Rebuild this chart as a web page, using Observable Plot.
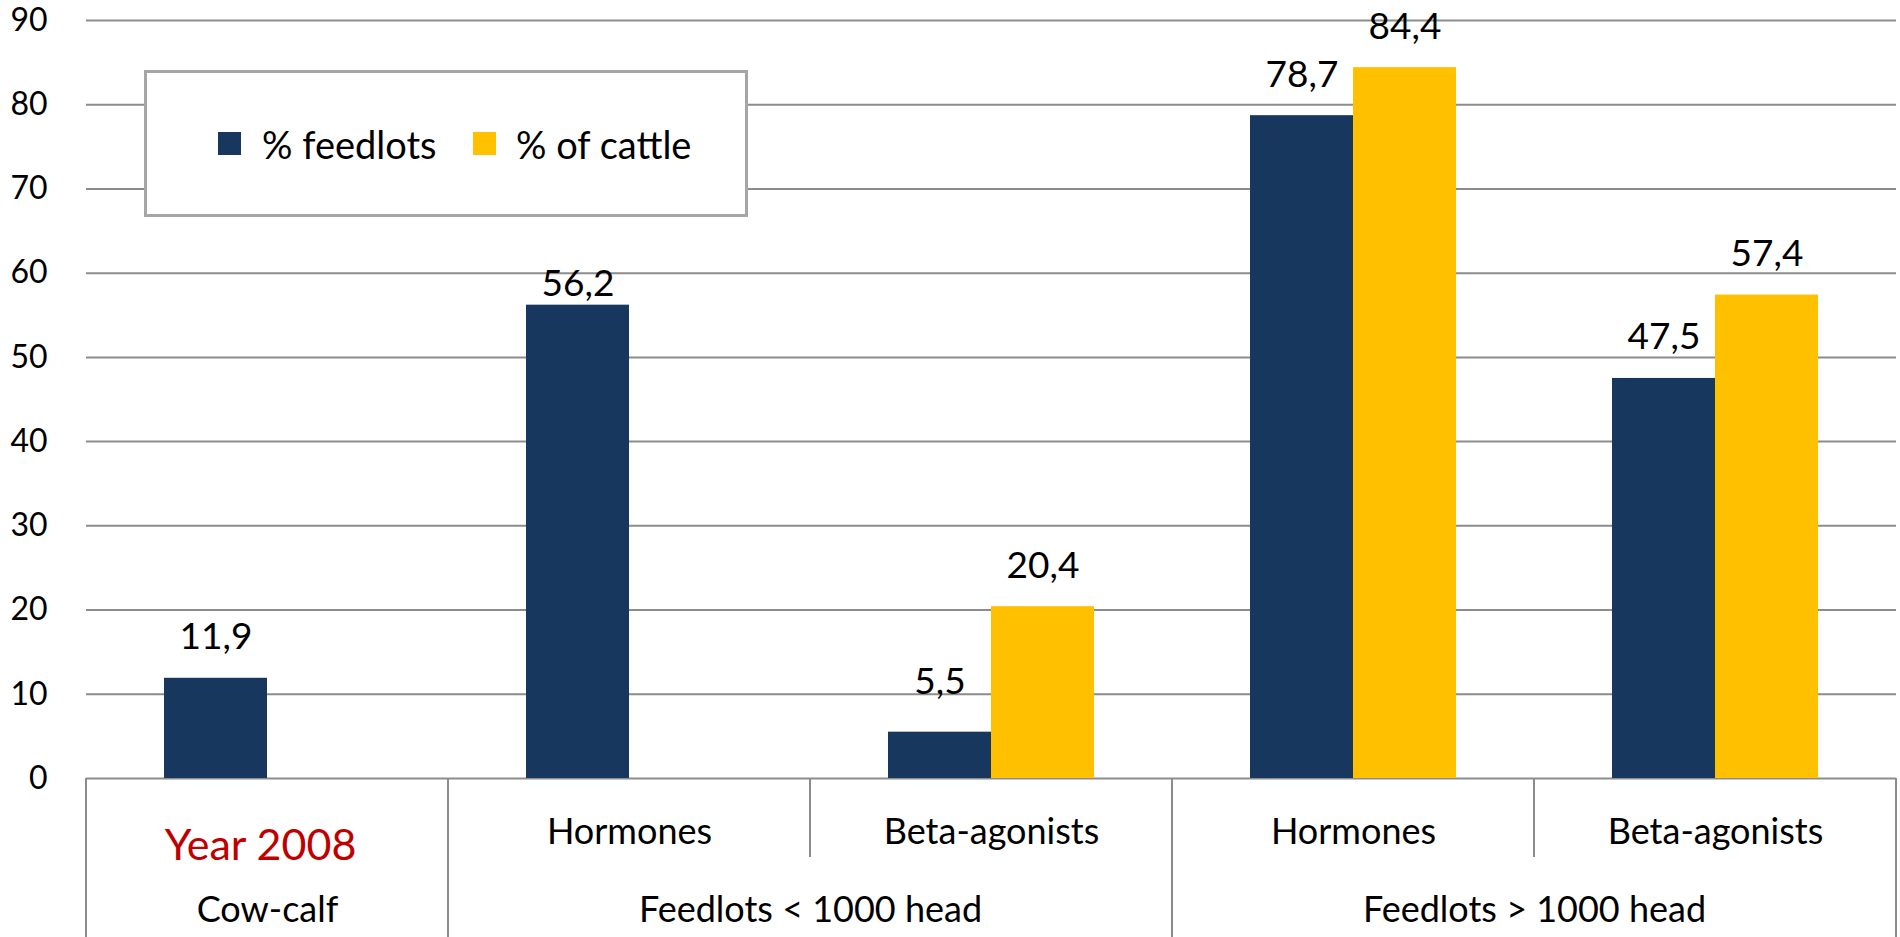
<!DOCTYPE html>
<html>
<head>
<meta charset="utf-8">
<script src="https://cdn.jsdelivr.net/npm/d3@7"></script>
<script src="https://cdn.jsdelivr.net/npm/@observablehq/plot@0.6"></script>
<style>
  html, body { margin: 0; padding: 0; background: #fff; overflow: hidden; }
  #wrap { position: relative; width: 1900px; height: 937px; font-family: Lato, Carlito, Calibri, sans-serif; color: #000; }
  #wrap svg { position: absolute; left: 0; top: 0; font-family: Lato, Carlito, Calibri, sans-serif; }
  #legend { position: absolute; left: 144px; top: 70px; width: 604px; height: 147px; box-sizing: border-box;
            border: 3px solid #a6a6a6; background: #fff; }
  .lg-item { position: absolute; top: 0; height: 100%; display: flex; align-items: center; }
  .lg-sw { width: 23px; height: 23px; }
  .lg-tx { font-size: 38px; white-space: nowrap; }
</style>
</head>
<body>
<div id="wrap"></div>
<script>
// ---- data ----
const subLabels   = ["Year 2008", "Hormones", "Beta-agonists", "Hormones", "Beta-agonists"];
const groupLabels = ["Cow-calf", "Feedlots < 1000 head", "Feedlots > 1000 head"];
const groupStart  = [0, 1, 3];
const groupSpan   = [1, 2, 2];
const seriesNames = ["% feedlots", "% of cattle"];
const feedlotsPct = [11.9, 56.2, 5.5, 78.7, 47.5];
const cattlePct   = [null, null, 20.4, 84.4, 57.4];
const yTicks      = [0, 10, 20, 30, 40, 50, 60, 70, 80, 90];

// ---- styling ----
const seriesColors = ["#17375e", "#ffc000"];
const gridColor = "#8c8c8c";
const W = 1900, H = 937;
const mL = 84, mR = 2, mT = 20, mB = 159;
const labelFont = 37;
const defaultGap = 29;
const gapOverride = {"1|% feedlots": 9, "2|% feedlots": 38};

const cols = subLabels.map((_, i) => i);
const rows = [];
cols.forEach(i => {
  if (feedlotsPct[i] != null) rows.push({col: i, series: seriesNames[0], value: feedlotsPct[i]});
  if (cattlePct[i] != null) rows.push({col: i, series: seriesNames[1], value: cattlePct[i]});
});
const fmt = v => d3.format(".1f")(v).replace(".", ",");
const gapOf = d => gapOverride[d.col + "|" + d.series] ?? defaultGap;
const gaps = [...new Set(rows.map(gapOf))];

const valueLabelMarks = gaps.map(g =>
  Plot.text(rows.filter(d => gapOf(d) === g), {
    fx: "col", x: "series", y: "value", text: d => fmt(d.value),
    lineAnchor: "middle", dy: -g - 0.32 * labelFont, fontSize: labelFont, fill: "#000"
  })
);

const subRows = cols.map(i => ({col: i, label: subLabels[i]}));
const groupRows = groupLabels.map((g, k) => ({col: groupStart[k], label: g, span: groupSpan[k]}));
const catFont = 36, yearFont = 43;

const plot = Plot.plot({
  width: W, height: H,
  marginLeft: mL, marginRight: mR, marginTop: mT, marginBottom: mB,
  fx: {domain: cols, padding: 0, axis: null},
  x: {domain: seriesNames, paddingInner: 0, paddingOuter: 0.744, axis: null},
  y: {domain: [0, 90], axis: null},
  color: {domain: seriesNames, range: seriesColors},
  style: {fontFamily: "Lato, Carlito, Calibri, sans-serif", color: "#000", background: "transparent"},
  marks: [
    Plot.ruleY(yTicks, {stroke: gridColor, strokeWidth: 2}),
    Plot.axisY({ticks: yTicks, tickSize: 0, tickPadding: 39, fontSize: 32, fill: "#000", label: null, tickFormat: d => String(d)}),
    Plot.barY(rows, {fx: "col", x: "series", y: "value", fill: "series", inset: 0}),
    ...valueLabelMarks,
    // first-level category labels
    Plot.text(subRows.filter(d => d.col !== 0), {
      fx: "col", frameAnchor: "bottom", text: "label", lineAnchor: "middle",
      dy: 843.3 - (H - mB) - 0.32 * catFont, fontSize: catFont, fill: "#000"
    }),
    Plot.text(subRows.filter(d => d.col === 0), {
      fx: "col", frameAnchor: "bottom", text: "label", lineAnchor: "middle",
      dx: -7, dy: 859.3 - (H - mB) - 0.32 * yearFont, fontSize: yearFont, fill: "#c00000"
    }),
    // second-level group labels
    Plot.text(groupRows.filter(d => d.span === 1), {
      fx: "col", frameAnchor: "bottom", text: "label", lineAnchor: "middle",
      dy: 921.7 - (H - mB) - 0.32 * catFont, fontSize: catFont, fill: "#000"
    }),
    Plot.text(groupRows.filter(d => d.span === 2), {
      fx: "col", frameAnchor: "bottom-right", textAnchor: "middle", text: "label", lineAnchor: "middle",
      dy: 921.7 - (H - mB) - 0.32 * catFont, fontSize: catFont, fill: "#000"
    })
  ]
});

const wrap = document.getElementById("wrap");
wrap.appendChild(plot);

// table lines of the two-level category axis, placed with Plot's fx/y scales
const fxS = plot.scale("fx");
const yS = plot.scale("y");
const y0 = yS.apply(0);
const bw = fxS.bandwidth;
const rowSplit = 857;
const svg = d3.select(plot);
const g = svg.append("g").attr("stroke", gridColor).attr("stroke-width", 2);
const boundaries = [];
boundaries.push({x: fxS.apply(0), full: true});
cols.slice(1).forEach(i => {
  const isGroupEdge = groupStart.includes(i);
  boundaries.push({x: fxS.apply(i), full: isGroupEdge});
});
boundaries.push({x: fxS.apply(cols[cols.length - 1]) + bw, full: true});
boundaries.forEach(b => {
  g.append("line").attr("x1", b.x).attr("x2", b.x).attr("y1", y0).attr("y2", b.full ? H : rowSplit);
});

// legend (overlaid on the plot area)
const legend = document.createElement("div");
legend.id = "legend";
const lgPos = [{sw: 74, tx: 118}, {sw: 329, tx: 372}];
seriesNames.forEach((s, i) => {
  const a = document.createElement("div");
  a.className = "lg-item"; a.style.left = lgPos[i].sw - 3 + "px";
  a.innerHTML = `<div class="lg-sw" style="background:${seriesColors[i]}"></div>`;
  legend.appendChild(a);
  const b = document.createElement("div");
  b.className = "lg-item"; b.style.left = lgPos[i].tx - 3 + "px";
  b.innerHTML = `<span class="lg-tx">${s}</span>`;
  legend.appendChild(b);
});
wrap.appendChild(legend);
</script>
</body>
</html>
